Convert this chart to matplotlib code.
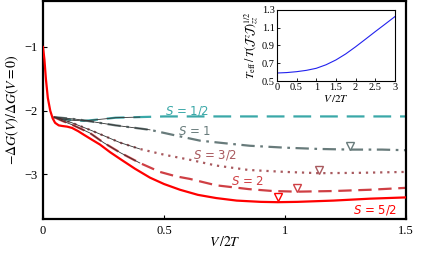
import matplotlib
matplotlib.use("Agg")
import matplotlib.pyplot as plt

plt.rcParams['mathtext.fontset'] = 'stix'
plt.rcParams['font.family'] = ['Liberation Serif', 'DejaVu Serif']

# ---- data ----
V52 = [0, 0.006, 0.012, 0.02, 0.03, 0.04, 0.05, 0.065, 0.08, 0.1, 0.12, 0.145, 0.17, 0.2,
       0.235, 0.277, 0.32, 0.38, 0.442, 0.5, 0.566, 0.64, 0.715, 0.8, 0.9, 0.97, 1.05, 1.2, 1.35, 1.5]
G52 = [-1.0, -1.2, -1.5, -1.8, -2.0, -2.12, -2.19, -2.23, -2.24, -2.25, -2.27, -2.32, -2.38, -2.45,
       -2.53, -2.65, -2.76, -2.91, -3.05, -3.15, -3.24, -3.32, -3.37, -3.41, -3.43, -3.435, -3.43, -3.41, -3.38, -3.36]

V2 = [0.045, 0.08, 0.12, 0.16, 0.194, 0.25, 0.32, 0.4, 0.483, 0.55, 0.607, 0.715, 0.85, 0.95, 1.05, 1.2, 1.35, 1.5]
G2 = [-2.1, -2.16, -2.22, -2.29, -2.35, -2.5, -2.66, -2.82, -2.96, -3.03, -3.07, -3.17, -3.23, -3.26, -3.27, -3.26, -3.24, -3.21]

V32 = [0.045, 0.08, 0.12, 0.16, 0.2, 0.25, 0.318, 0.4, 0.5, 0.607, 0.715, 0.85, 1.0, 1.14, 1.3, 1.5]
G32 = [-2.1, -2.14, -2.19, -2.25, -2.31, -2.39, -2.5, -2.6, -2.69, -2.77, -2.86, -2.93, -2.96, -2.98, -2.975, -2.96]

V1 = [0.045, 0.1, 0.15, 0.2, 0.3, 0.442, 0.55, 0.649, 0.75, 0.855, 1.0, 1.14, 1.27, 1.4, 1.5]
G1 = [-2.1, -2.12, -2.14, -2.17, -2.23, -2.30, -2.39, -2.47, -2.51, -2.55, -2.58, -2.60, -2.61, -2.61, -2.62]

V12 = [0.045, 0.08, 0.12, 0.17, 0.25, 0.3, 0.4, 0.5, 1.0, 1.5]
G12 = [-2.1, -2.13, -2.15, -2.16, -2.13, -2.11, -2.1, -2.09, -2.09, -2.09]

# minima markers (V, G)
minV = [1.27, 1.14, 1.05, 0.97]
minG = [-2.56, -2.93, -3.21, -3.36]

labels = ['1/2', '1', '3/2', '2', '5/2']

Vin = [0, 0.25, 0.5, 0.75, 1, 1.25, 1.5, 1.75, 2, 2.25, 2.5, 2.75, 3]
Tin = [0.59, 0.595, 0.605, 0.62, 0.643, 0.683, 0.737, 0.805, 0.885, 0.97, 1.056, 1.14, 1.225]

c52, c2, c32, c1, c12 = '#ff0000', '#cf3f44', '#a8595e', '#687b7b', '#3aa8a8'

fig = plt.figure(figsize=(4.32, 2.63), dpi=100)
ax = fig.add_axes([0.0995, 0.167, 0.8405, 0.829])

# thin dark early segments
for V, G in [(V1, G1), (V32, G32), (V2, G2), (V12, G12)]:
    vv = [v for v in V if v <= 0.45]
    gg = [g for v, g in zip(V, G) if v <= 0.45]
    ax.plot(vv, gg, color='#333333', lw=0.6, zorder=3)

ax.plot(V12, G12, color=c12, lw=1.6, dashes=(8, 4), zorder=2)
ax.plot(V1, G1, color=c1, lw=1.6, dashes=(6, 2.5, 1.2, 2.5), zorder=2)
ax.plot(V32, G32, color=c32, lw=1.6, dashes=(1, 2.2), zorder=2)
ax.plot(V2, G2, color=c2, lw=1.6, dashes=(6, 3), zorder=2)
ax.plot(V52, G52, color=c52, lw=1.6, zorder=4)

for mv, mg, c in zip(minV, minG, [c1, c32, c2, c52]):
    ax.plot([mv], [mg], marker='v', ms=5.5, mfc='white', mec=c, mew=1.0, ls='none', zorder=5)

lab_kw = dict(family=['DejaVu Sans'], fontsize=8.5, ha='left', va='baseline',
              math_fontfamily='dejavusans')
lab_pos = [(0.504, -2.065), (0.558, -2.38), (0.62, -2.75), (0.777, -3.16), (1.28, -3.61)]
for (lx, ly), lab, c in zip(lab_pos, labels, [c12, c1, c32, c2, c52]):
    ax.text(lx, ly, r'$S$ = ' + lab, color=c, **lab_kw)

ax.set_xlim(0, 1.5)
ax.set_ylim(-3.70, -0.28)
ax.set_xticks([0, 0.5, 1, 1.5])
ax.set_xticklabels(['0', '0.5', '1', '1.5'])
ax.set_yticks([-1, -2, -3])
ax.set_yticklabels(['\u22121', '\u22122', '\u22123'])
ax.tick_params(direction='in', length=3, width=0.8, labelsize=9, pad=4)
for s in ax.spines.values():
    s.set_linewidth(1.6)
ax.set_xlabel(r'$V\,/2T$', fontsize=10)
ax.xaxis.set_label_coords(0.5, -0.075)
ax.set_ylabel(r'$-\Delta G(V)/\Delta G(V=0)$', fontsize=10, labelpad=2)

# inset
ins = fig.add_axes([0.641, 0.692, 0.273, 0.27])
ins.plot(Vin, Tin, color='#2222ee', lw=0.8)
ins.set_xlim(0, 3)
ins.set_ylim(0.5, 1.3)
ins.set_xticks([0, 0.5, 1, 1.5, 2, 2.5, 3])
ins.set_xticklabels(['0', '0.5', '1', '1.5', '2', '2.5', '3'])
ins.set_yticks([0.5, 0.7, 0.9, 1.1, 1.3])
ins.tick_params(direction='in', length=2, width=0.6, labelsize=7.5, pad=1.5)
for s in ins.spines.values():
    s.set_linewidth(0.8)
ins.set_xlabel(r'$V\,/2T$', fontsize=8, labelpad=1)
ins.set_ylabel(r'$T_{\rm eff}\,/\,T(\mathcal{J}^{\,z}\!\mathcal{J})^{1/2}_{zz}$', fontsize=8.5, labelpad=1)

fig.savefig('out.png', dpi=100)
